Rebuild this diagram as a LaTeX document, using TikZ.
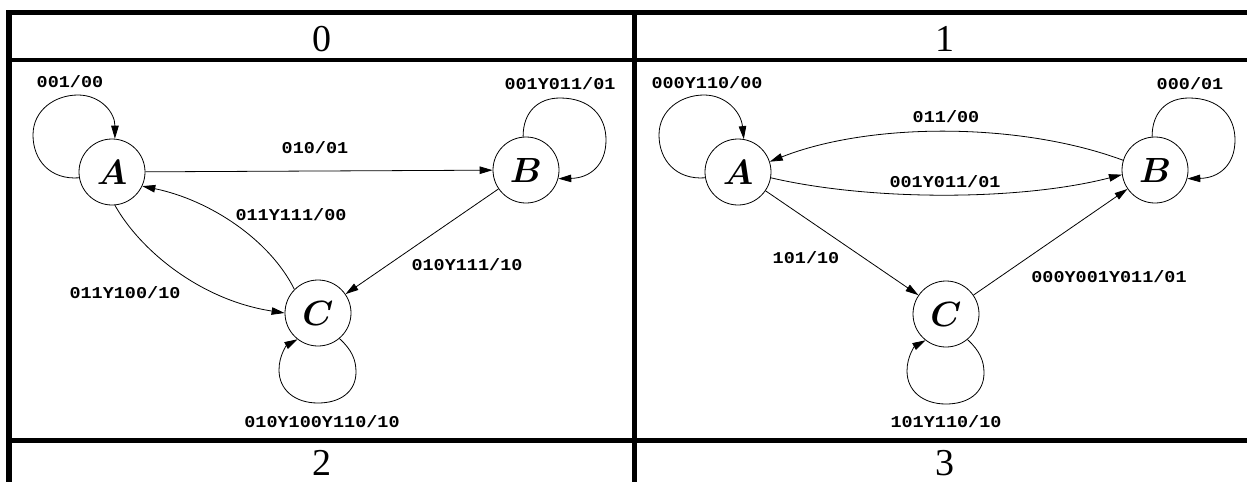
\RequirePackage{fix-cm}
\documentclass[tikz,border=0pt]{standalone}
\usepackage{fontspec}
\setmainfont{Liberation Serif}
\newfontfamily\lblfont{Liberation Mono}[UprightFont=* Bold, FakeStretch=1.12]
\usetikzlibrary{arrows.meta}
\begin{document}
\begin{tikzpicture}[x=1pt,y=-1pt,
  state/.style={circle,draw,line width=0.8pt,minimum size=66pt,inner sep=0pt,font=\fontsize{35}{35}\selectfont\boldmath},
  edge/.style={line width=0.8pt,-{Triangle[length=13pt,width=7.5pt]}},
  lbl/.style={font=\lblfont\fontsize{16.5}{16.5}\selectfont,inner sep=0pt},
  hdr/.style={font=\fontsize{38}{38}\selectfont,inner sep=0pt,anchor=base},
  tabline/.style={line width=5pt}]
\useasboundingbox (0,0) rectangle (1247,482);
% table
\draw[tabline] (6,12.5) -- (1247,12.5);
\draw[tabline,line width=4pt] (6,60) -- (1247,60);
\draw[tabline] (6,440) -- (1247,440);
\draw[tabline,line width=6pt] (9,10) -- (9,482);
\draw[tabline] (634.5,10) -- (634.5,482);
\node[hdr] (h0) at (321.5,51) {0};
\node[hdr] (h1) at (945,51) {1};
\node[hdr] (h2) at (321.5,475) {2};
\node[hdr] (h3) at (945,475) {3};
% ---------- panel 0 ----------
\node[state] (A0) at (112,172) {$A$};
\node[state] (B0) at (526,170) {$B$};
\node[state] (C0) at (318,313) {$C$};
\draw[edge] (A0.190) .. controls (50,180) and (33,160) .. (33,135) .. controls (33,110) and (55,95) .. (78,95) .. controls (100,95) and (115,112) .. (A0.85);
\node[lbl] (l0a) at (70,82) {001/00};
\draw[edge] (A0) -- (B0);
\node[lbl] (l0ab) at (315,148) {010/01};
\draw[edge] (B0.95) .. controls (523,112) and (538,98) .. (560,98) .. controls (590,98) and (606,116) .. (606,140) .. controls (606,165) and (590,178) .. (B0.-15);
\node[lbl] (l0b) at (560,84) {001Y011/01};
\draw[edge] (B0) -- (C0);
\node[lbl] (l0bc) at (467,265) {010Y111/10};
\draw[edge] (C0.135) .. controls (270,240) and (210,200) .. (A0.-25);
\node[lbl] (l0ca) at (291,215) {011Y111/00};
\draw[edge] (A0.-85) .. controls (140,250) and (200,300) .. (C0.180);
\node[lbl] (l0ac) at (125,293) {011Y100/10};
\draw[edge] (C0.-50) .. controls (352,350) and (356,360) .. (356,372) .. controls (356,392) and (340,403) .. (318,403) .. controls (295,403) and (279,390) .. (279,370) .. controls (279,355) and (287,345) .. (C0.-128);
\node[lbl] (l0c) at (322,422) {010Y100Y110/10};
% ---------- panel 1 ----------
\node[state] (A1) at (738,172) {$A$};
\node[state] (B1) at (1155,170) {$B$};
\node[state] (C1) at (946,314) {$C$};
\draw[edge] (A1.190) .. controls (676,180) and (659,160) .. (659,135) .. controls (659,110) and (681,95) .. (704,95) .. controls (726,95) and (741,112) .. (A1.80);
\node[lbl] (l1a) at (707,83) {000Y110/00};
\draw[edge] (B1.95) .. controls (1152,112) and (1167,98) .. (1189,98) .. controls (1219,98) and (1235,116) .. (1235,140) .. controls (1235,165) and (1219,178) .. (B1.-15);
\node[lbl] (l1b) at (1190,84) {000/01};
\draw[edge] (B1.163) .. controls (1020,122) and (870,122) .. (A1.18);
\node[lbl] (l1ba) at (946,117) {011/00};
\draw[edge] (A1.-10) .. controls (870,201) and (1020,201) .. (B1.-172);
\node[lbl] (l1ab) at (945,182) {001Y011/01};
\draw[edge] (A1) -- (C1);
\node[lbl] (l1ac) at (806,258) {101/10};
\draw[edge] (C1) -- (B1);
\node[lbl] (l1cb) at (1109,277) {000Y001Y011/01};
\draw[edge] (C1.-50) .. controls (980,351) and (984,361) .. (984,373) .. controls (984,393) and (968,404) .. (946,404) .. controls (923,404) and (907,391) .. (907,371) .. controls (907,356) and (915,346) .. (C1.-128);
\node[lbl] (l1c) at (946,422) {101Y110/10};
\end{tikzpicture}
\end{document}
